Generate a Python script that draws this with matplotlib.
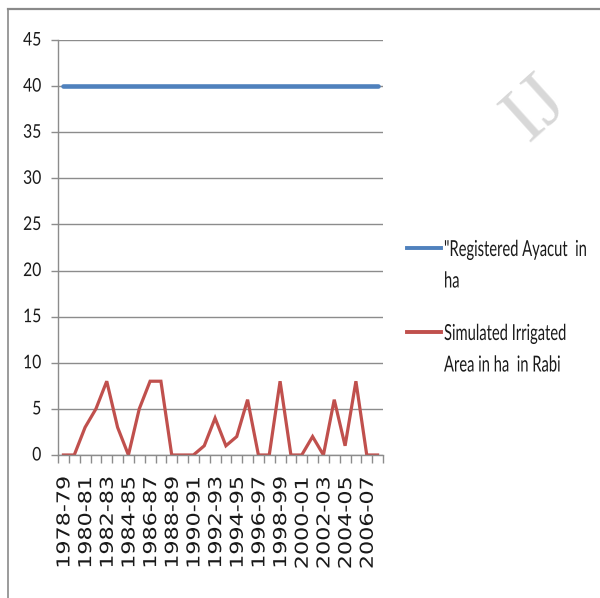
import matplotlib
matplotlib.use("Agg")
import matplotlib.pyplot as plt
from matplotlib.lines import Line2D
from matplotlib.patheffects import AbstractPathEffect
from matplotlib.transforms import Affine2D

years = ["1978-79", "1979-80", "1980-81", "1981-82", "1982-83", "1983-84",
         "1984-85", "1985-86", "1986-87", "1987-88", "1988-89", "1989-90",
         "1990-91", "1991-92", "1992-93", "1993-94", "1994-95", "1995-96",
         "1996-97", "1997-98", "1998-99", "1999-00", "2000-01", "2001-02",
         "2002-03", "2003-04", "2004-05", "2005-06", "2006-07", "2007-08"]
registered_ayacut = [40] * 30
simulated_rabi = [0, 0, 3, 5, 8, 3, 0, 5, 8, 8, 0, 0, 0, 1, 4, 1, 2, 6, 0, 0,
                  8, 0, 0, 2, 0, 6, 1, 8, 0, 0]
y_ticks = [0, 5, 10, 15, 20, 25, 30, 35, 40, 45]
series_labels = ['"Registered Ayacut  in\nha', "Simulated Irrigated\nArea in ha  in Rabi"]

BLUE = "#4F81BD"
RED = "#C0504D"
GRID = "#8c8c8c"
TEXT = "#1a1a1a"


class GlyphStretch(AbstractPathEffect):
    """Scale glyph outlines along their own height, keeping the baseline fixed."""

    def __init__(self, sy):
        super().__init__()
        self.sy = sy

    def draw_path(self, renderer, gc, tpath, affine, rgbFace=None):
        renderer.draw_path(gc, tpath, Affine2D().scale(1.0, self.sy) + affine, rgbFace)


fig = plt.figure(figsize=(6.0, 5.98), dpi=100)
W, H = 600.0, 598.0
ax = fig.add_axes([58 / W, 1 - 455 / H, (383 - 58) / W, (455 - 40) / H])

x = list(range(len(years)))
ax.plot(x, registered_ayacut, color=BLUE, lw=3.3, solid_capstyle="round")
ax.plot(x, simulated_rabi, color=RED, lw=2.3, solid_joinstyle="miter")

ax.set_xlim(-0.5, len(years) - 0.5)
ax.set_ylim(0, 45)
ax.set_yticks(y_ticks)
ax.set_yticklabels([str(v) for v in y_ticks], fontfamily="Lato", fontsize=11.3, color=TEXT)
for lbl in ax.get_yticklabels():
    lbl.set_path_effects([GlyphStretch(1.2)])
ax.yaxis.grid(True, color=GRID, lw=1.0)
ax.set_axisbelow(True)

ax.set_xticks([i - 0.5 for i in range(len(years) + 1)])
ax.set_xticklabels([])
ax.set_xticks(x[::2], minor=True)
ax.set_xticklabels(years[::2], minor=True, rotation=90, fontsize=16,
                   fontfamily="DejaVu Sans", color=TEXT)
for lbl in ax.get_xticklabels(minor=True):
    lbl.set_path_effects([GlyphStretch(0.8)])
ax.tick_params(axis="x", which="major", length=6, color=GRID, width=1.0)
ax.tick_params(axis="x", which="minor", length=0, pad=15)
ax.tick_params(axis="y", length=5, color=GRID, width=1.0, pad=7)

for side in ("top", "right"):
    ax.spines[side].set_visible(False)
for side in ("left", "bottom"):
    ax.spines[side].set_color(GRID)
    ax.spines[side].set_linewidth(1.0)

# legend: handle beside the first line of each wrapped label
legend_rows = [(BLUE, 248), (RED, 332)]
for (color, ypix), label in zip(legend_rows, series_labels):
    fig.add_artist(Line2D([407 / W, 441 / W], [1 - ypix / H, 1 - ypix / H], color=color,
                          lw=2.8, transform=fig.transFigure))
    for k, line in enumerate(label.split("\n")):
        t = fig.text(444 / W, 1 - (ypix + 8 + 31.5 * k) / H, line, ha="left", va="baseline",
                     fontfamily="Lato", fontsize=10.6, color=TEXT)
        t.set_path_effects([GlyphStretch(1.5)])

# outer chart frame
fig.add_artist(Line2D([8 / W, 1.0], [1 - 9 / H, 1 - 9 / H], color="#8a8a8a", lw=1.6,
                      transform=fig.transFigure))
fig.add_artist(Line2D([8 / W, 8 / W], [0.0, 1 - 9 / H], color="#8a8a8a", lw=1.2,
                      transform=fig.transFigure))

# faint watermark
fig.text(528 / W, 1 - 142 / H, "IJ", rotation=42, rotation_mode="anchor",
         ha="left", va="baseline", fontsize=56, fontfamily="Liberation Serif",
         color="#d8d8d8")

fig.savefig("out.png", dpi=100)
